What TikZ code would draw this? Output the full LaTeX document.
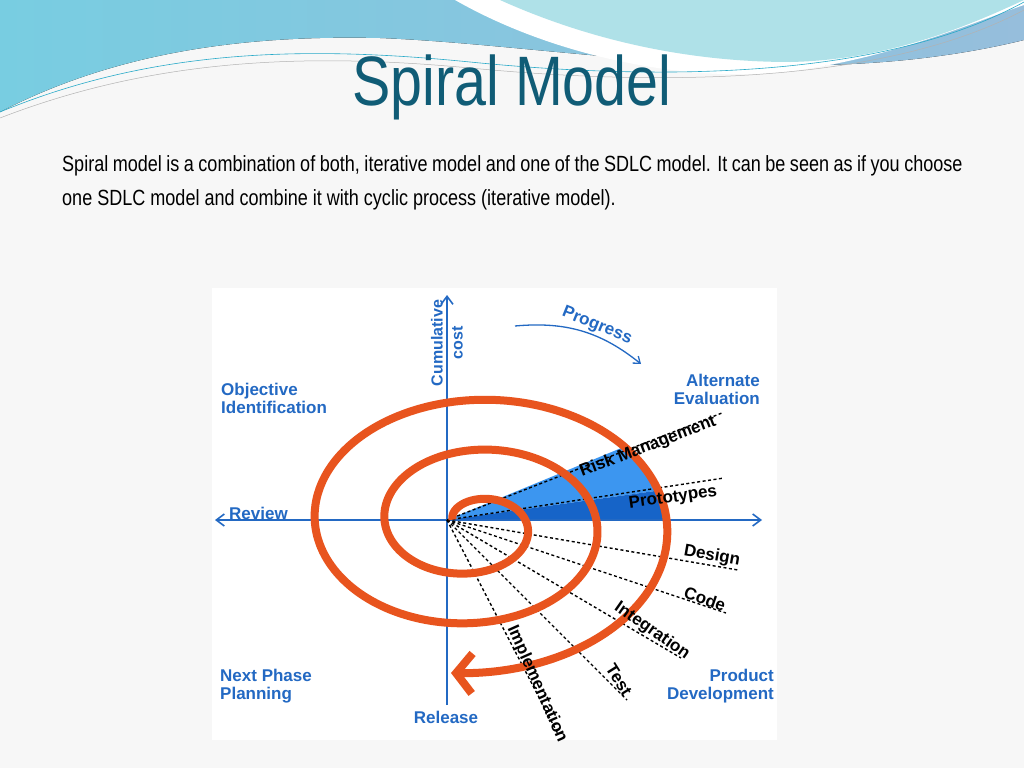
\documentclass[tikz,border=0pt]{standalone}
\usepackage{fontspec}
\setmainfont{Liberation Sans}
\usetikzlibrary{arrows.meta, positioning}
\definecolor{spiralorange}{RGB}{232,84,30}
\definecolor{axisblue}{RGB}{35,105,195}
\definecolor{titleteal}{RGB}{16,92,118}
\definecolor{lightwedge}{RGB}{60,150,240}
\definecolor{darkwedge}{RGB}{22,100,200}
\definecolor{waveleft}{RGB}{120,205,225}
\definecolor{waveright}{RGB}{150,190,220}
\definecolor{wavepale}{RGB}{175,225,232}
\definecolor{waveline}{RGB}{40,170,200}
\tikzset{
  x=1pt, y=-1pt,
  axis/.style={axisblue, line width=1.6pt, -{Straight Barb[length=8pt,width=12pt]}},
  phase/.style={text=axisblue, font=\fontsize{17}{18}\selectfont\bfseries, inner sep=1pt},
  ray/.style={black, line width=1.4pt, dash pattern=on 3pt off 2.5pt},
  raylabel/.style={font=\fontsize{17}{18}\selectfont\bfseries, inner sep=1pt},
}
\newcommand{\spiralx}[1]{473.5+(36+70*#1)*sin(360*#1)}
\newcommand{\spiraly}[1]{524-(24+50*#1)*cos(360*#1)}
\newcommand{\narrowtext}[1]{\scalebox{0.82}[1]{#1}}
\begin{document}
\begin{tikzpicture}
  % background and header
  \fill[gray!6] (0,0) rectangle (1024,768);
  \useasboundingbox (0,0) rectangle (1024,768);
  \fill[left color=waveleft, right color=waveright]
    (0,0) -- (0,112) .. controls (120,50) and (250,35) .. (380,38)
    .. controls (560,45) and (800,95) .. (1024,40) -- (1024,0) -- cycle;
  \fill[white] (455,0) .. controls (560,60) and (700,85) .. (800,70)
    .. controls (900,55) and (980,20) .. (1024,5) -- (1024,0) -- cycle;
  \fill[wavepale] (500,0) .. controls (600,45) and (700,62) .. (790,62)
    .. controls (890,60) and (970,25) .. (1024,0) -- cycle;
  \draw[waveline, line width=0.6pt]
    (0,112) .. controls (150,50) and (300,45) .. (470,62) .. controls (700,85) and (900,70) .. (1024,2);
  \draw[gray!60, line width=0.5pt]
    (0,118) .. controls (150,60) and (300,52) .. (470,68) .. controls (700,90) and (900,76) .. (1024,10);
  \node[text=titleteal, font=\fontsize{70}{74}\selectfont] (title) at (512,87) {\narrowtext{Spiral Model}};
  \node[font=\fontsize{22}{34}\selectfont, anchor=north west, inner sep=0pt]
    (intro) at (62,155) {\narrowtext{\parbox{1098pt}{Spiral model is a combination of both, iterative model and one of the SDLC model. It can be seen as if you choose one SDLC model and combine it with cyclic process (iterative model).}}};

  % diagram panel
  \fill[white] (212,288) rectangle (777,740);
  \coordinate (O) at (447,520);

  % wedges
  \fill[lightwedge] (O) -- plot[domain=2.15:2.21, samples=10, variable=\t] ({\spiralx{\t}}, {\spiraly{\t}}) -- cycle;
  \fill[darkwedge] (O) -- plot[domain=2.21:2.245, samples=10, variable=\t] ({\spiralx{\t}}, {\spiraly{\t}}) -- (O);

  % axes
  \coordinate (west) at (215,520);
  \coordinate (east) at (762,520);
  \coordinate (north) at (447,295);
  \coordinate (south) at (447,705);
  \draw[axis] (O) -- (east);
  \draw[axis] (O) -- (west);
  \draw[axis] (south) -- (north);

  % rays
  \coordinate (riskend) at (722,413);
  \coordinate (protoend) at (724,478);
  \coordinate (designend) at (738,570);
  \coordinate (codeend) at (726,613);
  \coordinate (integend) at (681,658);
  \coordinate (testend) at (627,700);
  \coordinate (implend) at (558,734);
  \draw[ray] (O) -- (riskend);
  \draw[ray] (O) -- (protoend);
  \draw[ray] (O) -- (designend);
  \draw[ray] (O) -- (codeend);
  \draw[ray] (O) -- (integend);
  \draw[ray] (O) -- (testend);
  \draw[ray] (O) -- (implend);

  % spiral
  \draw[spiralorange, line width=8pt, -{Straight Barb[length=16pt, width=40pt, line width=8pt]}]
    plot[domain=-0.2:2.52, samples=240, variable=\t, smooth] ({\spiralx{\t}}, {\spiraly{\t}});

  % ray labels
  \node[raylabel, rotate=21] (risk) at (648,447) {Risk Management};
  \node[raylabel, rotate=8] (proto) at (673,498) {Prototypes};
  \node[raylabel, rotate=-10] (design) at (712,556) {Design};
  \node[raylabel, rotate=-19] (code) at (705,599) {Code};
  \node[raylabel, rotate=-35] (integ) at (652,631) {Integration};
  \node[raylabel, rotate=-58] (test) at (619,680) {Test};
  \node[raylabel, rotate=-66] (impl) at (537,684) {Implementation};

  % axis labels
  \node[text=axisblue, font=\fontsize{16}{20}\selectfont\bfseries, rotate=90, align=center] (cost) at (447,343) {Cumulative\\cost};
  \coordinate (progstart) at (515,326);
  \coordinate (progend) at (641,364);
  \draw[axisblue, line width=1.3pt, -{Straight Barb[length=6pt,width=9pt]}] (progstart) to[bend left=22] (progend);
  \node[phase, rotate=-22] (progress) at (597,326) {Progress};

  % phase labels
  \node[phase, align=left, anchor=west] (objective) at (220,398) {Objective\\Identification};
  \node[phase, align=right, anchor=east] (alternate) at (761,389) {Alternate\\Evaluation};
  \node[phase, anchor=west] (review) at (228,513) {Review};
  \node[phase, align=left, anchor=west] (nextphase) at (219,686) {Next Phase\\Planning};
  \node[phase] (release) at (446,717) {Release};
  \node[phase, align=right, anchor=east] (product) at (775,686) {Product\\Development};
\end{tikzpicture}
\end{document}
